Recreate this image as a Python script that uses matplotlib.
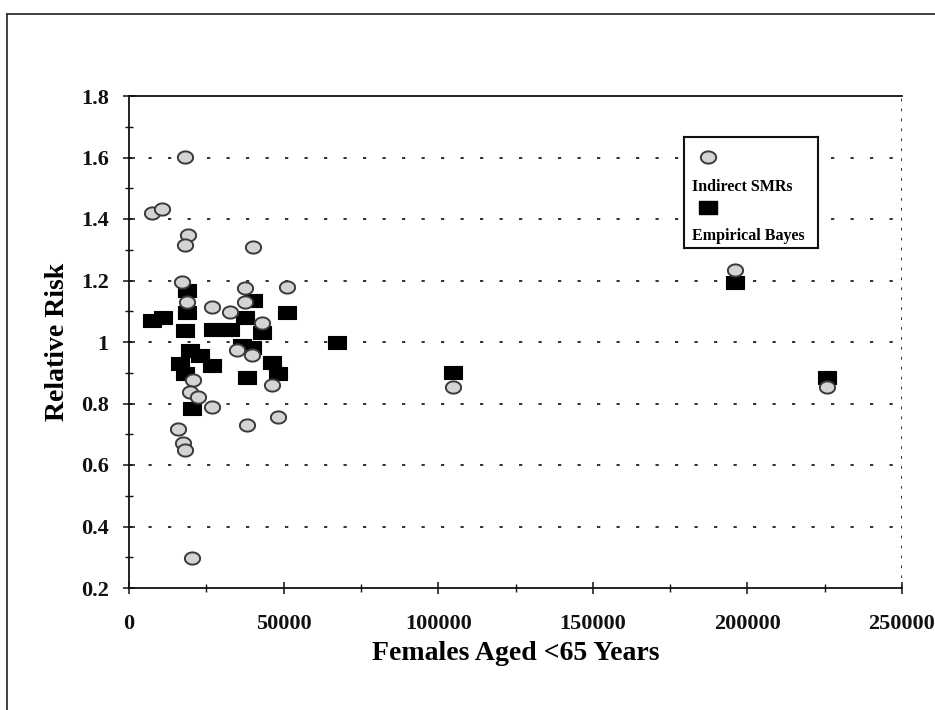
import numpy as np
import matplotlib
matplotlib.use("Agg")
import matplotlib.pyplot as plt
from matplotlib.lines import Line2D
from matplotlib.ticker import MultipleLocator

# ---- data ----
smr_x = [18110, 7440, 10670, 19080, 18110, 40100, 17140, 37520, 51100, 18760,
         26840, 32660, 37520, 43010, 34930, 39780, 20700, 46250, 19730, 22300,
         26840, 48190, 38160, 15850, 17460, 18110, 20370, 104790, 195990, 225740]
smr_y = [1.602, 1.42, 1.433, 1.348, 1.315, 1.309, 1.195, 1.176, 1.179, 1.13,
         1.114, 1.098, 1.13, 1.062, 0.974, 0.958, 0.876, 0.86, 0.837, 0.821,
         0.789, 0.756, 0.73, 0.717, 0.672, 0.649, 0.298, 0.854, 1.234, 0.854]

eb_x = [18760, 40100, 18760, 7440, 11000, 51100, 37520, 18110, 27170, 32660,
        43010, 36550, 39780, 19730, 22960, 16490, 26840, 18110, 46250, 48190,
        38160, 20370, 67270, 104790, 195990, 225740]
eb_y = [1.169, 1.137, 1.098, 1.072, 1.081, 1.098, 1.081, 1.039, 1.042, 1.042,
        1.033, 0.99, 0.984, 0.974, 0.958, 0.932, 0.925, 0.899, 0.935, 0.899,
        0.886, 0.785, 1.0, 0.902, 1.195, 0.886]

x_ticks = [0, 50000, 100000, 150000, 200000, 250000]
y_ticks = [0.2, 0.4, 0.6, 0.8, 1.0, 1.2, 1.4, 1.6, 1.8]
y_tick_labels = ["0.2", "0.4", "0.6", "0.8", "1", "1.2", "1.4", "1.6", "1.8"]
series_labels = ["Indirect SMRs", "Empirical Bayes"]
x_label = "Females Aged <65 Years"
y_label = "Relative Risk"

# ---- styling ----
plt.rcParams['font.family'] = ['Liberation Serif', 'DejaVu Serif']
plt.rcParams['font.weight'] = 'bold'

th = np.linspace(0, 2 * np.pi, 41)
ellipse = np.column_stack([np.cos(th), 0.8 * np.sin(th)])
rect = np.array([[-1, -0.72], [1, -0.72], [1, 0.72], [-1, 0.72], [-1, -0.72]])

fig = plt.figure(figsize=(9.35, 7.1), dpi=100)
ax = fig.add_axes([129 / 935, 1 - 588 / 710, (902 - 129) / 935, (588 - 96) / 710])

ax.set_xlim(0, 250000)
ax.set_ylim(0.2, 1.8)

for yv in y_ticks[1:-1]:
    ax.axhline(yv, color='#222222', lw=1.3, ls=(0, (1.8, 9)), zorder=1)
ax.axvline(250000, color='#222222', lw=1.3, ls=(0, (1.5, 4)), zorder=1)

ax.plot(eb_x, eb_y, ls='none', marker=rect, ms=13, mfc='black', mec='black',
        mew=0.8, zorder=3)
ax.plot(smr_x, smr_y, ls='none', marker=ellipse, ms=11, mfc='#d4d4d4', mec='#3a3a3a',
        mew=1.4, zorder=4)

ax.spines['right'].set_visible(False)
for s in ['left', 'bottom', 'top']:
    ax.spines[s].set_linewidth(1.3)
    ax.spines[s].set_color('#111111')

ax.set_xticks(x_ticks)
ax.set_xticklabels([str(v) for v in x_ticks])
ax.xaxis.set_minor_locator(MultipleLocator(25000))
ax.set_yticks(y_ticks)
ax.set_yticklabels(y_tick_labels)
ax.yaxis.set_minor_locator(MultipleLocator(0.1))
ax.tick_params(axis='both', which='major', direction='inout', length=9, width=1.1,
               labelsize=16, colors='#111111')
ax.tick_params(axis='both', which='minor', direction='inout', length=6, width=1.0,
               colors='#111111')
ax.tick_params(axis='x', which='major', pad=14)
ax.tick_params(axis='y', which='major', pad=10)

ax.set_xlabel(x_label, fontsize=20, fontweight='bold', labelpad=5)
ax.set_ylabel(y_label, fontsize=20, fontweight='bold', labelpad=8)

# ---- legend (manual layout: symbol above label) ----
lax = fig.add_axes([684 / 935, 1 - 248 / 710, (818 - 684) / 935, (248 - 137) / 710])
lax.set_xlim(0, 1)
lax.set_ylim(0, 1)
lax.set_xticks([])
lax.set_yticks([])
for s in lax.spines.values():
    s.set_linewidth(1.5)
    s.set_color('#111111')
lax.plot([0.18], [0.82], ls='none', marker=ellipse, ms=11, mfc='#d4d4d4',
         mec='#3a3a3a', mew=1.4)
lax.text(0.06, 0.55, series_labels[0], fontsize=11.5, fontweight='bold',
         va='center', ha='left')
lax.plot([0.18], [0.37], ls='none', marker=rect, ms=13, mfc='black', mec='black')
lax.text(0.06, 0.11, series_labels[1], fontsize=11.5, fontweight='bold',
         va='center', ha='left')

# ---- outer scanned frame ----
fig.add_artist(Line2D([7 / 935, 7 / 935], [1 - 14 / 710, 0.0], transform=fig.transFigure,
                      color='#333333', lw=1.3))
fig.add_artist(Line2D([7 / 935, 1.0], [1 - 14 / 710, 1 - 14 / 710], transform=fig.transFigure,
                      color='#333333', lw=1.3))

fig.savefig('out.png', dpi=100)
